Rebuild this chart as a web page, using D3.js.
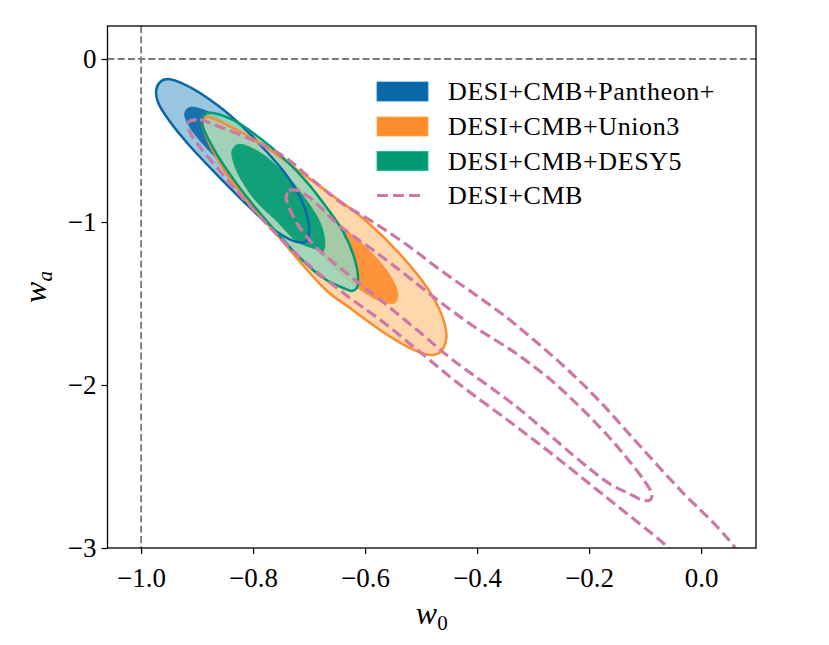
<!DOCTYPE html>
<html>
<head>
<meta charset="utf-8">
<script src="https://cdn.jsdelivr.net/npm/d3@7"></script>
<style>
  html, body { margin: 0; padding: 0; background: #ffffff; }
  svg { display: block; }
</style>
</head>
<body>
<svg id="chart" width="829" height="645"></svg>
<script>
// ---------------- data (w0, wa) ----------------
const w0Ticks = [-1.0, -0.8, -0.6, -0.4, -0.2, 0.0];
const waTicks = [0, -1, -2, -3];
const legendLabels = ["DESI+CMB+Pantheon+", "DESI+CMB+Union3", "DESI+CMB+DESY5", "DESI+CMB"];

const pantheonOuter = [[-0.973,-0.190],[-0.966,-0.141],[-0.952,-0.123],[-0.913,-0.172],[-0.864,-0.282],[-0.818,-0.417],[-0.782,-0.546],[-0.746,-0.687],[-0.721,-0.816],[-0.704,-0.957],[-0.700,-1.061],[-0.707,-1.123],[-0.721,-1.123],[-0.757,-1.061],[-0.805,-0.914],[-0.864,-0.712],[-0.913,-0.534],[-0.948,-0.387],[-0.970,-0.264]];
const pantheonInner = [[-0.923,-0.331],[-0.913,-0.294],[-0.877,-0.325],[-0.838,-0.423],[-0.796,-0.558],[-0.766,-0.712],[-0.748,-0.853],[-0.746,-0.926],[-0.757,-0.939],[-0.784,-0.865],[-0.823,-0.742],[-0.863,-0.620],[-0.895,-0.503],[-0.916,-0.405]];

const union3Outer = [[-0.891,-0.387],[-0.884,-0.356],[-0.836,-0.423],[-0.775,-0.546],[-0.716,-0.693],[-0.657,-0.840],[-0.596,-1.000],[-0.538,-1.196],[-0.489,-1.405],[-0.463,-1.571],[-0.455,-1.712],[-0.466,-1.798],[-0.484,-1.816],[-0.520,-1.773],[-0.568,-1.675],[-0.627,-1.528],[-0.668,-1.423],[-0.716,-1.245],[-0.757,-1.080],[-0.805,-0.896],[-0.846,-0.712],[-0.877,-0.528],[-0.889,-0.423]];
const union3Inner = [[-0.802,-0.638],[-0.784,-0.632],[-0.743,-0.718],[-0.698,-0.840],[-0.645,-1.012],[-0.596,-1.160],[-0.555,-1.325],[-0.541,-1.442],[-0.546,-1.497],[-0.570,-1.491],[-0.614,-1.405],[-0.663,-1.258],[-0.716,-1.061],[-0.761,-0.865],[-0.791,-0.730]];

const desy5Outer = [[-0.891,-0.362],[-0.880,-0.331],[-0.836,-0.374],[-0.788,-0.485],[-0.746,-0.607],[-0.704,-0.755],[-0.668,-0.914],[-0.639,-1.061],[-0.621,-1.202],[-0.613,-1.325],[-0.614,-1.399],[-0.623,-1.423],[-0.639,-1.405],[-0.675,-1.344],[-0.716,-1.221],[-0.746,-1.110],[-0.788,-0.945],[-0.829,-0.767],[-0.864,-0.589],[-0.889,-0.423]];
const desy5Inner = [[-0.838,-0.558],[-0.827,-0.521],[-0.788,-0.571],[-0.746,-0.693],[-0.711,-0.834],[-0.680,-1.000],[-0.671,-1.123],[-0.675,-1.184],[-0.686,-1.172],[-0.721,-1.123],[-0.757,-1.000],[-0.800,-0.853],[-0.829,-0.693],[-0.838,-0.601]];

const desiCmbOuter = [[-0.916,-0.387],[-0.895,-0.374],[-0.864,-0.411],[-0.805,-0.491],[-0.746,-0.595],[-0.698,-0.730],[-0.645,-0.877],[-0.586,-1.000],[-0.525,-1.141],[-0.466,-1.294],[-0.407,-1.436],[-0.346,-1.589],[-0.288,-1.755],[-0.234,-1.920],[-0.180,-2.104],[-0.114,-2.356],[-0.032,-2.663],[0.029,-2.871],[0.061,-3.000],[0.088,-3.135],[-0.020,-3.123],[-0.068,-2.969],[-0.163,-2.706],[-0.257,-2.448],[-0.341,-2.227],[-0.430,-2.000],[-0.502,-1.798],[-0.568,-1.613],[-0.627,-1.466],[-0.686,-1.307],[-0.734,-1.160],[-0.779,-1.000],[-0.823,-0.834],[-0.864,-0.669],[-0.895,-0.540],[-0.913,-0.448]];
const desiCmbInner = [[-0.741,-0.847],[-0.736,-0.810],[-0.723,-0.804],[-0.698,-0.853],[-0.645,-1.025],[-0.586,-1.172],[-0.525,-1.331],[-0.466,-1.491],[-0.407,-1.638],[-0.329,-1.810],[-0.264,-1.982],[-0.211,-2.153],[-0.163,-2.325],[-0.127,-2.472],[-0.100,-2.595],[-0.088,-2.669],[-0.091,-2.706],[-0.105,-2.706],[-0.127,-2.669],[-0.163,-2.607],[-0.229,-2.429],[-0.329,-2.135],[-0.448,-1.834],[-0.507,-1.663],[-0.568,-1.491],[-0.627,-1.331],[-0.686,-1.160],[-0.716,-1.037],[-0.734,-0.926]];

// ---------------- drawing ----------------
const svg = d3.select("#chart");
const L = 107.5, R = 756, T = 26, B = 548;
const x = d3.scaleLinear().domain([-1.06, 0.098]).range([L, R]);
const y = d3.scaleLinear().domain([-3, 0.2025]).range([B, T]);
const serif = "'Liberation Serif', 'Times New Roman', serif";

const blue = "#0a68a8", orange = "#fd8c2e", green = "#009b72", pink = "#cc79a7";
const blueLight = "#88bcdb", orangeLight = "#ffd09e", greenLight = "#97d3ba";

svg.append("rect").attr("width", 829).attr("height", 645).attr("fill", "#fff");

svg.append("defs").append("clipPath").attr("id", "plotclip")
  .append("rect").attr("x", L).attr("y", T).attr("width", R - L).attr("height", B - T);

const plot = svg.append("g").attr("clip-path", "url(#plotclip)");

// reference lines
plot.append("line").attr("x1", x(-1)).attr("x2", x(-1)).attr("y1", T).attr("y2", B)
  .attr("stroke", "#7a7a7a").attr("stroke-width", 1.8).attr("stroke-dasharray", "7,3.2");
plot.append("line").attr("x1", L).attr("x2", R).attr("y1", y(0)).attr("y2", y(0))
  .attr("stroke", "#7a7a7a").attr("stroke-width", 1.8).attr("stroke-dasharray", "7,3.2");

const closed = d3.line().x(d => x(d[0])).y(d => y(d[1])).curve(d3.curveCatmullRomClosed.alpha(0.5));

const sets = [
  {outer: pantheonOuter, inner: pantheonInner, col: blue, light: blueLight},
  {outer: union3Outer, inner: union3Inner, col: orange, light: orangeLight},
  {outer: desy5Outer, inner: desy5Inner, col: green, light: greenLight}
];
sets.forEach(s => {
  plot.append("path").attr("d", closed(s.outer)).attr("fill", s.light).attr("fill-opacity", 0.85).attr("stroke", "none");
  plot.append("path").attr("d", closed(s.inner)).attr("fill", s.col).attr("fill-opacity", 0.9).attr("stroke", "none");
});
sets.forEach(s => {
  plot.append("path").attr("d", closed(s.outer)).attr("fill", "none").attr("stroke", s.col).attr("stroke-width", 2.5);
});
[desiCmbOuter, desiCmbInner].forEach(c => {
  plot.append("path").attr("d", closed(c)).attr("fill", "none").attr("stroke", pink)
    .attr("stroke-width", 3.2).attr("stroke-dasharray", "11,5");
});

// axes
const xAxis = svg.append("g").attr("transform", `translate(0,${B})`)
  .call(d3.axisBottom(x).tickValues(w0Ticks).tickFormat(d3.format(".1f")).tickSize(6).tickSizeOuter(0));
const yAxis = svg.append("g").attr("transform", `translate(${L},0)`)
  .call(d3.axisLeft(y).tickValues(waTicks).tickFormat(d3.format("d")).tickSize(6).tickSizeOuter(0));
[xAxis, yAxis].forEach(a => {
  a.select(".domain").remove();
  a.selectAll(".tick line").attr("stroke", "#000").attr("stroke-width", 1.2);
  a.selectAll(".tick text").attr("fill", "#000").style("font-family", serif).style("font-size", "27px");
});
xAxis.selectAll(".tick text").attr("y", 39).attr("dy", 0);
yAxis.selectAll(".tick text").attr("x", -11).attr("dy", "0.33em");

// frame
svg.append("rect").attr("x", L).attr("y", T).attr("width", R - L).attr("height", B - T)
  .attr("fill", "none").attr("stroke", "#000").attr("stroke-width", 1.3);

// axis labels
const xl = svg.append("text").attr("x", (L + R) / 2).attr("y", 624).attr("text-anchor", "middle")
  .style("font-family", serif).style("font-size", "32px");
xl.append("tspan").style("font-style", "italic").text("w");
xl.append("tspan").attr("dy", 6).style("font-size", "21px").text("0");

const yl = svg.append("text").attr("transform", `translate(46,${(T + B) / 2}) rotate(-90)`).attr("text-anchor", "middle")
  .style("font-family", serif).style("font-size", "32px");
yl.append("tspan").style("font-style", "italic").text("w");
yl.append("tspan").attr("dy", 6).style("font-size", "21px").style("font-style", "italic").text("a");

// legend
const legendRows = [91.5, 126.5, 161, 195.5];
const legendCols = [blue, orange, green, pink];
const lg = svg.append("g");
legendLabels.forEach((lab, i) => {
  const cy = legendRows[i];
  if (i < 3) {
    lg.append("rect").attr("x", 377).attr("y", cy - 9.5).attr("width", 51).attr("height", 19)
      .attr("fill", legendCols[i]).attr("stroke", d3.color(legendCols[i]).brighter(0.6)).attr("stroke-width", 0.8);
  } else {
    lg.append("line").attr("x1", 377).attr("x2", 424).attr("y1", cy).attr("y2", cy)
      .attr("stroke", pink).attr("stroke-width", 3.2).attr("stroke-dasharray", "11,5");
  }
  lg.append("text").attr("x", 448).attr("y", cy + 8.5).text(lab)
    .style("font-family", serif).style("font-size", "26px").style("letter-spacing", "0.6px").attr("fill", "#000");
});
</script>
</body>
</html>
